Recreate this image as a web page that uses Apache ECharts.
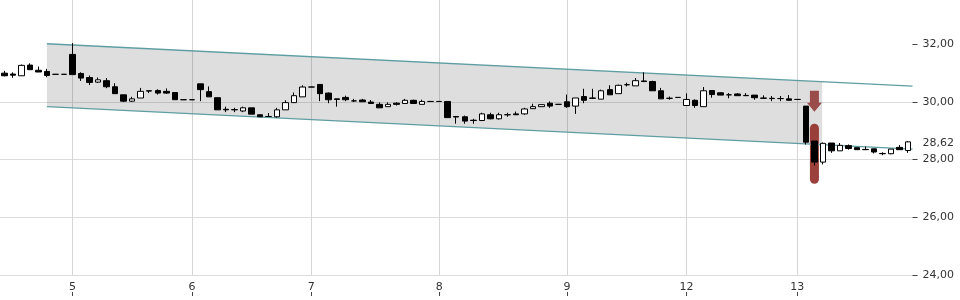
<!DOCTYPE html>
<html><head><meta charset="utf-8">
<script src="https://cdn.jsdelivr.net/npm/echarts@6/dist/echarts.min.js"></script>
<style>html,body{margin:0;padding:0;background:#fff}#c{width:960px;height:300px}</style>
</head><body><div id="c"></div>
<script>
const opens = [30.99,30.96,30.90,31.27,31.09,31.05,30.95,30.95,31.64,30.98,30.84,30.68,30.73,30.52,30.24,30.02,30.13,30.38,30.39,30.36,30.32,30.07,30.07,30.62,30.35,30.14,29.74,29.73,29.68,29.79,29.55,29.49,29.48,29.72,29.97,30.17,30.51,30.60,30.30,30.10,30.15,30.03,30.06,29.99,29.91,29.83,29.95,29.94,30.05,29.91,30.01,30.01,30.01,29.49,29.48,29.36,29.35,29.55,29.41,29.55,29.58,29.58,29.76,29.83,29.95,29.91,30.00,29.85,30.18,30.13,30.09,30.42,30.28,30.59,30.55,30.72,30.70,30.38,30.12,30.15,29.87,30.05,29.83,30.39,30.31,30.24,30.27,30.22,30.23,30.13,30.12,30.11,30.10,30.08,29.85,28.64,27.91,28.57,28.30,28.48,28.41,28.35,28.37,28.21,28.20,28.42,28.31];
const closes = [30.90,30.92,31.26,31.11,31.03,30.91,30.95,30.95,30.94,30.82,30.67,30.76,30.52,30.28,30.02,30.10,30.36,30.37,30.30,30.30,30.07,30.07,30.07,30.42,30.17,29.72,29.72,29.72,29.79,29.57,29.48,29.49,29.72,29.97,30.21,30.51,30.51,30.28,30.07,30.08,30.07,30.03,30.00,29.94,29.79,29.91,29.91,30.05,29.94,30.01,30.01,30.01,29.45,29.47,29.33,29.35,29.58,29.41,29.55,29.55,29.55,29.75,29.83,29.90,29.85,29.91,29.83,30.13,30.05,30.12,30.38,30.24,30.57,30.59,30.73,30.70,30.38,30.10,30.12,30.15,30.08,29.87,30.38,30.25,30.23,30.24,30.21,30.21,30.14,30.12,30.11,30.11,30.05,30.08,28.60,27.91,28.56,28.30,28.49,28.38,28.34,28.34,28.26,28.20,28.36,28.34,28.61];
const lows = [30.88,30.83,30.89,31.11,31.03,30.85,30.95,30.95,30.94,30.72,30.58,30.65,30.47,30.28,29.99,29.99,30.13,30.30,30.25,30.27,30.07,30.07,30.07,30.02,30.17,29.72,29.64,29.64,29.64,29.57,29.48,29.48,29.45,29.72,29.97,30.17,30.51,30.02,29.95,29.83,30.02,29.99,30.00,29.94,29.79,29.83,29.87,29.94,29.94,29.91,30.01,30.01,29.45,29.24,29.24,29.24,29.33,29.39,29.38,29.48,29.55,29.55,29.76,29.83,29.79,29.91,29.79,29.58,29.95,30.10,30.09,30.24,30.28,30.53,30.55,30.68,30.38,30.10,30.07,30.15,29.87,29.79,29.83,30.14,30.23,30.12,30.21,30.21,30.07,30.10,30.02,30.02,30.05,30.08,28.52,27.79,27.83,28.23,28.30,28.34,28.34,28.34,28.21,28.15,28.18,28.34,28.23];
const highs = [31.07,31.02,31.29,31.33,31.22,31.14,30.95,30.95,32.03,31.02,30.91,30.84,30.82,30.64,30.24,30.17,30.48,30.38,30.43,30.46,30.32,30.07,30.07,30.62,30.53,30.14,29.83,29.79,29.83,29.79,29.55,29.61,29.79,30.05,30.32,30.57,30.51,30.60,30.32,30.10,30.21,30.10,30.10,30.06,29.98,29.98,29.98,30.10,30.07,30.07,30.01,30.01,30.01,29.49,29.52,29.41,29.62,29.62,29.62,29.62,29.66,29.79,29.93,29.90,30.01,29.91,30.25,30.13,30.45,30.45,30.42,30.57,30.59,30.66,30.82,31.02,30.73,30.48,30.18,30.15,30.29,30.08,30.51,30.39,30.33,30.30,30.30,30.30,30.23,30.22,30.20,30.20,30.23,30.08,29.85,28.64,28.59,28.57,28.57,28.52,28.41,28.45,28.37,28.25,28.36,28.50,28.64];
const tickIndex = [8, 22, 36, 51, 66, 80, 93];
const tickLabels = ['5', '6', '7', '8', '9', '12', '13'];
const yTicks = [24, 26, 28, 30, 32];
const channelX = [5, 106.5];
const channelTop = [32.01, 30.54];
const channelBottom = [29.83, 28.36];
const shadeX = [5, 95.9];
const shadeTop = [32.01, 30.70];
const shadeBottom = [29.83, 28.51];
const signalIndex = 95;
const arrowPrice = [30.38, 29.65];
const barPrice = [29.24, 27.16];
const lastPrice = 28.62;

const cats = opens.map((_, i) => String(i));
const candleData = opens.map((o, i) => [o, closes[i], lows[i], highs[i]]);
const isTick = (i) => tickIndex.indexOf(i) >= 0;
const fmtNum = (v) => v.toFixed(2).replace('.', ',');

const chart = echarts.init(document.getElementById('c'), null, {renderer: 'canvas'});
chart.setOption({
  animation: false,
  backgroundColor: '#fff',
  textStyle: {fontFamily: 'DejaVu Sans'},
  grid: {left: 0, right: 47.5, top: 0, bottom: 25, containLabel: false},
  xAxis: [{
    type: 'category', data: cats, boundaryGap: true, position: 'bottom', offset: 21,
    axisLine: {show: false},
    axisTick: {show: true, inside: true, length: 4, alignWithLabel: true, interval: (i) => isTick(i), lineStyle: {color: '#444'}},
    axisLabel: {inside: true, margin: 3, interval: (i) => isTick(i), color: '#333', fontSize: 11, fontFamily: 'DejaVu Sans',
      formatter: (v, i) => { const k = tickIndex.indexOf(Number(v)); return k >= 0 ? tickLabels[k] : ''; }},
    splitLine: {show: true, alignWithLabel: true, interval: (i) => isTick(i), lineStyle: {color: '#d6d6d6', width: 1}}
  }, {
    type: 'value', min: -0.5, max: 106.5, show: false
  }],
  yAxis: {
    type: 'value', position: 'right', min: 24, max: 33.524, interval: 2,
    axisLine: {show: false, onZero: false},
    axisTick: {show: true, length: 5, customValues: yTicks, lineStyle: {color: '#444'}},
    axisLabel: {margin: 10, color: '#333', fontSize: 11, fontFamily: 'DejaVu Sans', customValues: yTicks,
      formatter: (v) => fmtNum(v)},
    splitLine: {show: true, showMaxLine: false, lineStyle: {color: '#dcdcdc', width: 1}}
  },
  series: [
    {
      type: 'custom', xAxisIndex: 1, z: 1, silent: true,
      data: [[shadeX[0], shadeTop[0]]],
      renderItem: (params, api) => {
        const p = [
          api.coord([shadeX[0], shadeTop[0]]),
          api.coord([shadeX[1], shadeTop[1]]),
          api.coord([shadeX[1], shadeBottom[1]]),
          api.coord([shadeX[0], shadeBottom[0]])
        ];
        return {type: 'polygon', shape: {points: p}, style: {fill: 'rgba(0,0,0,0.13)'}};
      }
    },
    {
      type: 'line', xAxisIndex: 1, z: 3, symbol: 'none', silent: true,
      data: channelX.map((x, i) => [x, channelTop[i]]),
      lineStyle: {color: '#5e9ea2', width: 1.4}
    },
    {
      type: 'line', xAxisIndex: 1, z: 3, symbol: 'none', silent: true,
      data: channelX.map((x, i) => [x, channelBottom[i]]),
      lineStyle: {color: '#5e9ea2', width: 1.4}
    },
    {
      type: 'custom', xAxisIndex: 0, z: 2, silent: true,
      data: [[signalIndex, arrowPrice[0]]],
      renderItem: (params, api) => {
        const a0 = api.coord([signalIndex, arrowPrice[0]]);
        const a1 = api.coord([signalIndex, arrowPrice[1]]);
        const b0 = api.coord([signalIndex, barPrice[0]]);
        const b1 = api.coord([signalIndex, barPrice[1]]);
        const cx = a0[0];
        const headH = 9, shaftW = 9, headW = 15, barW = 9;
        return {type: 'group', children: [
          {type: 'polygon', shape: {points: [
            [cx - shaftW / 2, a0[1]], [cx + shaftW / 2, a0[1]], [cx + shaftW / 2, a1[1] - headH],
            [cx + headW / 2, a1[1] - headH], [cx, a1[1]], [cx - headW / 2, a1[1] - headH], [cx - shaftW / 2, a1[1] - headH]
          ]}, style: {fill: 'rgba(145,60,58,0.9)'}},
          {type: 'rect', shape: {x: cx - barW / 2, y: b0[1], width: barW, height: b1[1] - b0[1], r: barW / 2},
            style: {fill: 'rgba(148,48,42,0.92)'}}
        ]};
      }
    },
    {
      type: 'candlestick', xAxisIndex: 0, z: 4, barWidth: 6, clip: false,
      data: candleData,
      itemStyle: {color: '#ffffff', color0: '#000000', borderColor: '#000000', borderColor0: '#000000', borderWidth: 1},
      markLine: {
        silent: true, symbol: 'none',
        lineStyle: {color: 'rgba(0,0,0,0)', width: 1, type: 'solid'},
        label: {show: true, position: 'end', distance: 10, color: '#333', fontSize: 11, fontFamily: 'DejaVu Sans', offset: [0, 2],
          formatter: () => fmtNum(lastPrice)},
        data: [{yAxis: lastPrice}]
      }
    }
  ]
});
</script></body></html>
